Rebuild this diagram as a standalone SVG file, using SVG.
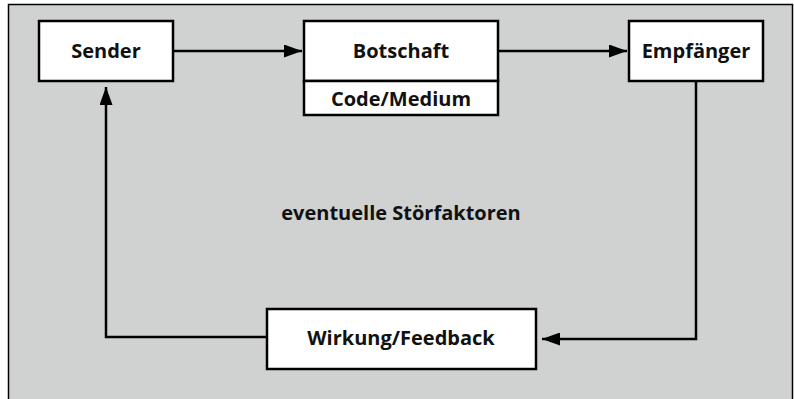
<svg xmlns="http://www.w3.org/2000/svg" width="794" height="399" viewBox="0 0 794 399">
<defs>
<style>
.box{fill:#ffffff;stroke:#000000;stroke-width:2.5}
.lbl{font-family:"Open Sans","Liberation Sans",sans-serif;font-weight:bold;font-size:20px;fill:#111111;text-anchor:middle}
.con{fill:none;stroke:#000000;stroke-width:2.5}
</style>
<marker id="ah" markerWidth="18" markerHeight="13" refX="18" refY="6.5" orient="auto" markerUnits="userSpaceOnUse">
<path d="M0,0 L18,6.5 L0,13 Z" fill="#000000"/>
</marker>
</defs>
<rect x="8.5" y="4.5" width="784" height="400" fill="#d0d2d1" stroke="#000000" stroke-width="1.5"/>
<g id="connectors">
<line class="con" x1="174" y1="51" x2="302" y2="51" marker-end="url(#ah)"/>
<line class="con" x1="498" y1="51" x2="627" y2="51" marker-end="url(#ah)"/>
<polyline class="con" points="696,81 696,339 542,339" marker-end="url(#ah)"/>
<polyline class="con" points="267,337 106,337 106,87" marker-end="url(#ah)"/>
</g>
<g id="sender">
<rect class="box" x="39" y="21" width="134" height="60"/>
<text class="lbl" x="106" y="58">Sender</text>
</g>
<g id="botschaft">
<rect class="box" x="304" y="21" width="194" height="60"/>
<rect class="box" x="304" y="81" width="194" height="34"/>
<text class="lbl" x="401" y="58">Botschaft</text>
<text class="lbl" x="401" y="106">Code/Medium</text>
</g>
<g id="empfaenger">
<rect class="box" x="629" y="21" width="134" height="60"/>
<text class="lbl" x="696" y="58">Empfänger</text>
</g>
<g id="wirkung">
<rect class="box" x="267" y="309" width="269" height="60"/>
<text class="lbl" x="401" y="345">Wirkung/Feedback</text>
</g>
<g id="stoerfaktoren">
<text class="lbl" x="401" y="220">eventuelle Störfaktoren</text>
</g>
</svg>
